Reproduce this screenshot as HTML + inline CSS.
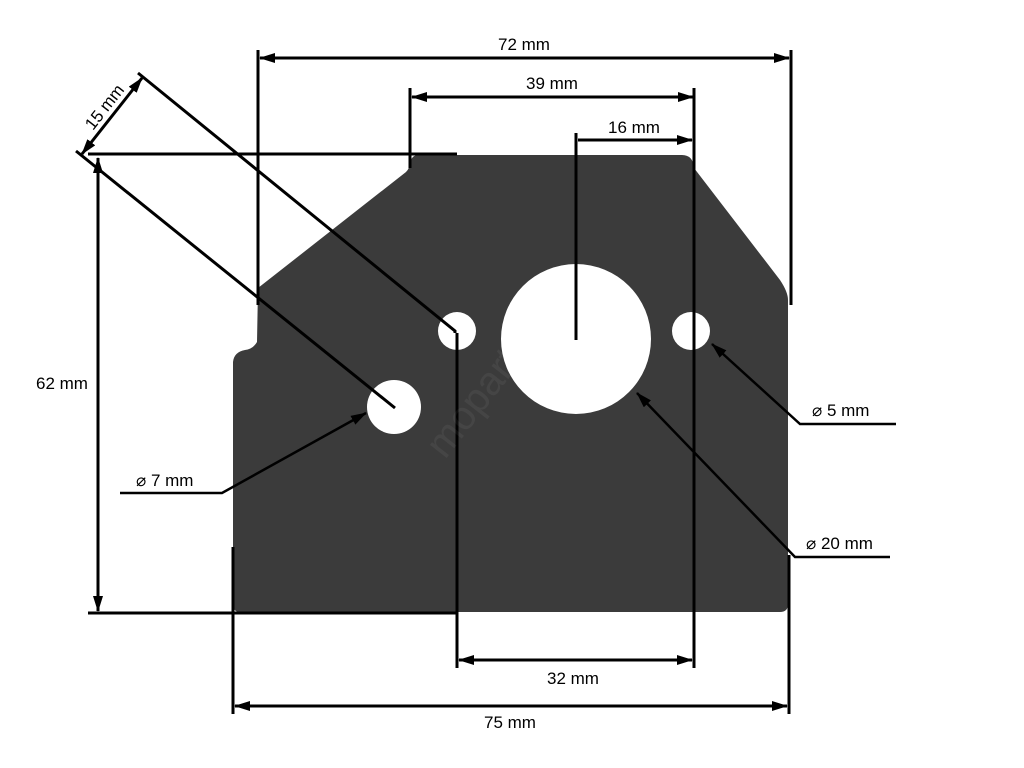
<!DOCTYPE html>
<html><head><style>
html,body{margin:0;padding:0;background:#fff;}
svg{display:block;}
text{font-family:"Liberation Sans",sans-serif;font-size:17px;fill:#000;}
</style></head><body>
<svg width="1024" height="768" viewBox="0 0 1024 768" xmlns="http://www.w3.org/2000/svg">
<defs>
<marker id="a" viewBox="0 0 16 10" refX="15" refY="5" markerWidth="16" markerHeight="10" markerUnits="userSpaceOnUse" orient="auto-start-reverse">
<path d="M0,0 L16,5 L0,10 z" fill="#000"/></marker>
</defs>
<path fill="#3b3b3b" fill-rule="evenodd" d="M418,155 L682,155 Q693,155 694,168 L780,280 Q788,292 788,300 L788,604 Q788,612 780,612 L240,612 Q233,612 233,604 L233,362 Q234,352 245,350 Q253,349 257,342 L258,288 L406,172 Q410,168 411,160 Q413,155 418,155 Z
M438,331 a19,19 0 1,0 38,0 a19,19 0 1,0 -38,0 Z
M501,339 a75,75 0 1,0 150,0 a75,75 0 1,0 -150,0 Z
M672,331 a19,19 0 1,0 38,0 a19,19 0 1,0 -38,0 Z
M367,407 a27,27 0 1,0 54,0 a27,27 0 1,0 -54,0 Z"/>
<g stroke="#000" stroke-width="3" fill="none">
<line x1="258" y1="50" x2="258" y2="305"/>
<line x1="791" y1="50" x2="791" y2="305"/>
<line x1="260" y1="58" x2="789" y2="58" marker-start="url(#a)" marker-end="url(#a)"/>
<line x1="410" y1="88" x2="410" y2="168"/>
<line x1="412" y1="97" x2="693" y2="97" marker-start="url(#a)" marker-end="url(#a)"/>
<line x1="694" y1="88" x2="694" y2="668"/>
<line x1="576" y1="133" x2="576" y2="340"/>
<line x1="578" y1="140" x2="692" y2="140" marker-end="url(#a)"/>
<line x1="88" y1="154" x2="457" y2="154"/>
<line x1="98" y1="158" x2="98" y2="611" marker-start="url(#a)" marker-end="url(#a)"/>
<line x1="88" y1="613" x2="457" y2="613"/>
<line x1="457" y1="333" x2="457" y2="668"/>
<line x1="459" y1="660" x2="692" y2="660" marker-start="url(#a)" marker-end="url(#a)"/>
<line x1="233" y1="547" x2="233" y2="714"/>
<line x1="789" y1="555" x2="789" y2="714"/>
<line x1="235" y1="706" x2="787" y2="706" marker-start="url(#a)" marker-end="url(#a)"/>
<polyline points="138,73 455,331 455,333"/>
<line x1="76" y1="151" x2="395" y2="408"/>
<line x1="82" y1="154" x2="142" y2="78" marker-start="url(#a)" marker-end="url(#a)"/>
<polyline points="120,493 222,493 366,413" marker-end="url(#a)" stroke-width="2.5"/>
<polyline points="896,424 800,424 712,344" marker-end="url(#a)" stroke-width="2.5"/>
<polyline points="890,557 795,557 637,393" marker-end="url(#a)" stroke-width="2.5"/>
</g>
<text x="524" y="50" text-anchor="middle">72 mm</text>
<text x="552" y="89" text-anchor="middle">39 mm</text>
<text x="634" y="133" text-anchor="middle">16 mm</text>
<text x="62" y="389" text-anchor="middle">62 mm</text>
<text x="573" y="684" text-anchor="middle">32 mm</text>
<text x="510" y="728" text-anchor="middle">75 mm</text>
<text x="0" y="0" transform="translate(93,131) rotate(-52)">15 mm</text>
<text x="136" y="486">⌀ 7 mm</text>
<text x="812" y="416">⌀ 5 mm</text>
<text x="806" y="549">⌀ 20 mm</text>
<text x="0" y="0" transform="translate(445,460) rotate(-52)" style="font-size:40px;fill:#ffffff;opacity:0.05">moparts.pl</text>
</svg>
</body></html>
